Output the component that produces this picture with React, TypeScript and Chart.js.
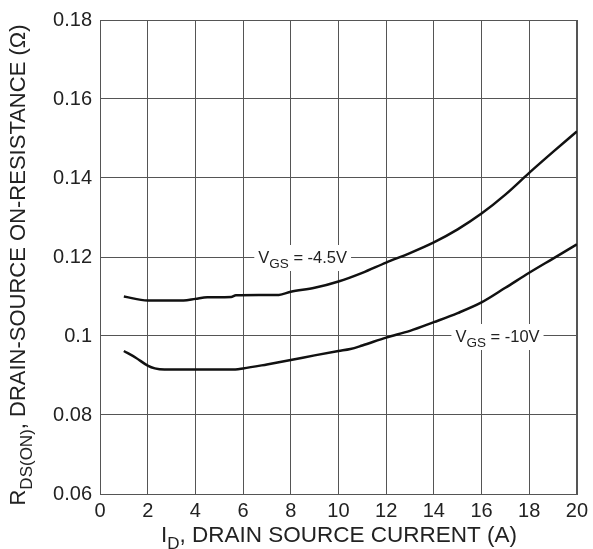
import React, { useEffect, useRef } from "react";
import { Chart, registerables } from "chart.js";

Chart.register(...registerables);

const xVgs45 = [1, 2, 3, 3.5, 4, 4.5, 5.5, 5.7, 7.5, 8, 9, 10, 11, 12, 13, 14, 15, 16, 17, 18, 19, 20];
const rVgs45 = [0.110, 0.109, 0.109, 0.109, 0.1094, 0.1098, 0.1099, 0.1103, 0.1104, 0.1112, 0.1122, 0.1138, 0.1160, 0.1186, 0.1210, 0.1237, 0.1270, 0.1310, 0.1358, 0.1413, 0.1466, 0.1518];

const xVgs10 = [1, 1.5, 2, 2.3, 2.7, 4, 5.5, 6, 7, 8, 9, 10, 10.5, 11, 12, 13, 14, 15, 16, 17, 18, 19, 20];
const rVgs10 = [0.0962, 0.0945, 0.0925, 0.0918, 0.0915, 0.0915, 0.0915, 0.0918, 0.0928, 0.0939, 0.0951, 0.0962, 0.0967, 0.0976, 0.0996, 0.1013, 0.1035, 0.1058, 0.1085, 0.1122, 0.1160, 0.1196, 0.1232];

const xTicks = [0, 2, 4, 6, 8, 10, 12, 14, 16, 18, 20];
const yTicks = [0.06, 0.08, 0.1, 0.12, 0.14, 0.16, 0.18];

const labels = [
  { main: "V", sub: "GS", rest: " = -4.5V", x: 8.5, y: 0.12 },
  { main: "V", sub: "GS", rest: " = -10V", x: 16.67, y: 0.1 },
];

const FONT = "'Liberation Sans', Arial, sans-serif";
const TEXT = "#222";

type Part = { t: string; sub?: boolean };

function measureParts(ctx: CanvasRenderingContext2D, parts: Part[], size: number, subSize: number) {
  let w = 0;
  for (const p of parts) {
    ctx.font = `${p.sub ? subSize : size}px ${FONT}`;
    w += ctx.measureText(p.t).width;
  }
  return w;
}

function renderParts(ctx: CanvasRenderingContext2D, parts: Part[], x0: number, y0: number, size: number, subSize: number) {
  let x = x0;
  for (const p of parts) {
    ctx.font = `${p.sub ? subSize : size}px ${FONT}`;
    ctx.fillText(p.t, x, p.sub ? y0 + size * 0.32 : y0);
    x += ctx.measureText(p.t).width;
  }
}

const customText = {
  id: "customText",
  afterDraw(chart: any) {
    const ctx: CanvasRenderingContext2D = chart.ctx;
    const xs = chart.scales.x;
    const ys = chart.scales.y;
    ctx.save();
    ctx.fillStyle = TEXT;
    ctx.textBaseline = "alphabetic";
    ctx.textAlign = "left";

    for (const l of labels) {
      const parts = [{ t: l.main }, { t: l.sub, sub: true }, { t: l.rest }];
      const size = 16.5;
      const sub = 13.5;
      const w = measureParts(ctx, parts, size, sub);
      const cx = xs.getPixelForValue(l.x);
      const cy = ys.getPixelForValue(l.y);
      ctx.fillStyle = "#fff";
      ctx.fillRect(cx - w / 2 - 4, cy - 12, w + 8, 26);
      ctx.fillStyle = TEXT;
      renderParts(ctx, parts, cx - w / 2, cy + 6, size, sub);
    }

    {
      const parts = [{ t: "I" }, { t: "D", sub: true }, { t: ", DRAIN SOURCE CURRENT (A)" }];
      const w = measureParts(ctx, parts, 22.5, 17);
      const cx = 339;
      renderParts(ctx, parts, cx - w / 2, 542, 22.5, 17);
    }
    {
      const parts = [{ t: "R" }, { t: "DS(ON)", sub: true }, { t: ", DRAIN-SOURCE ON-RESISTANCE (Ω)" }];
      const w = measureParts(ctx, parts, 22, 17);
      ctx.translate(25, 265);
      ctx.rotate(-Math.PI / 2);
      renderParts(ctx, parts, -w / 2, 0, 22, 17);
    }
    ctx.restore();
  },
};

export default function App() {
  const ref = useRef<HTMLCanvasElement>(null);
  useEffect(() => {
    if (!ref.current) return;
    const chart = new Chart(ref.current, {
      type: "line",
      data: {
        datasets: [
          {
            label: "VGS = -4.5V",
            data: xVgs45.map((x, i) => ({ x, y: rVgs45[i] })),
            borderColor: "#111",
            borderWidth: 2.5,
            pointRadius: 0,
            tension: 0.4,
            cubicInterpolationMode: "monotone",
            fill: false,
          },
          {
            label: "VGS = -10V",
            data: xVgs10.map((x, i) => ({ x, y: rVgs10[i] })),
            borderColor: "#111",
            borderWidth: 2.5,
            pointRadius: 0,
            tension: 0.4,
            cubicInterpolationMode: "monotone",
            fill: false,
          },
        ],
      },
      options: {
        animation: false,
        responsive: false,
        devicePixelRatio: 1,
        layout: { padding: { left: 0, top: 14, right: 13, bottom: 0 } },
        plugins: { legend: { display: false }, tooltip: { enabled: false } },
        scales: {
          x: {
            type: "linear",
            min: 0,
            max: 20,
            afterBuildTicks: (s: any) => {
              s.ticks = xTicks.map((v) => ({ value: v }));
            },
            afterFit: (s: any) => {
              s.height = 55;
            },
            grid: { color: "#555", lineWidth: 1, drawTicks: false },
            border: { color: "#555", width: 1 },
            ticks: { color: TEXT, font: { family: FONT, size: 20 }, padding: 5, maxRotation: 0 },
          },
          y: {
            type: "linear",
            min: 0.06,
            max: 0.18,
            afterBuildTicks: (s: any) => {
              s.ticks = yTicks.map((v) => ({ value: v }));
            },
            afterFit: (s: any) => {
              s.width = 100;
            },
            grid: { color: "#555", lineWidth: 1, drawTicks: false },
            border: { color: "#555", width: 1 },
            ticks: {
              color: TEXT,
              font: { family: FONT, size: 20 },
              padding: 8,
              callback: (v: any) => String(Math.round(Number(v) * 100) / 100),
            },
          },
        },
      },
      plugins: [
        customText,
        {
          id: "frame",
          afterDraw(chart: any) {
            const { left, right, top, bottom } = chart.chartArea;
            const ctx = chart.ctx;
            ctx.save();
            ctx.strokeStyle = "#555";
            ctx.lineWidth = 1;
            ctx.strokeRect(Math.round(left) + 0.5, Math.round(top) + 0.5, Math.round(right - left), Math.round(bottom - top));
            ctx.restore();
          },
        },
      ],
    } as any);
    return () => chart.destroy();
  }, []);
  return (
    <div style={{ position: "fixed", left: 0, top: 0, width: 593, height: 549, background: "#fff" }}>
      <canvas ref={ref} width={593} height={549} style={{ display: "block", width: 593, height: 549 }} />
    </div>
  );
}
